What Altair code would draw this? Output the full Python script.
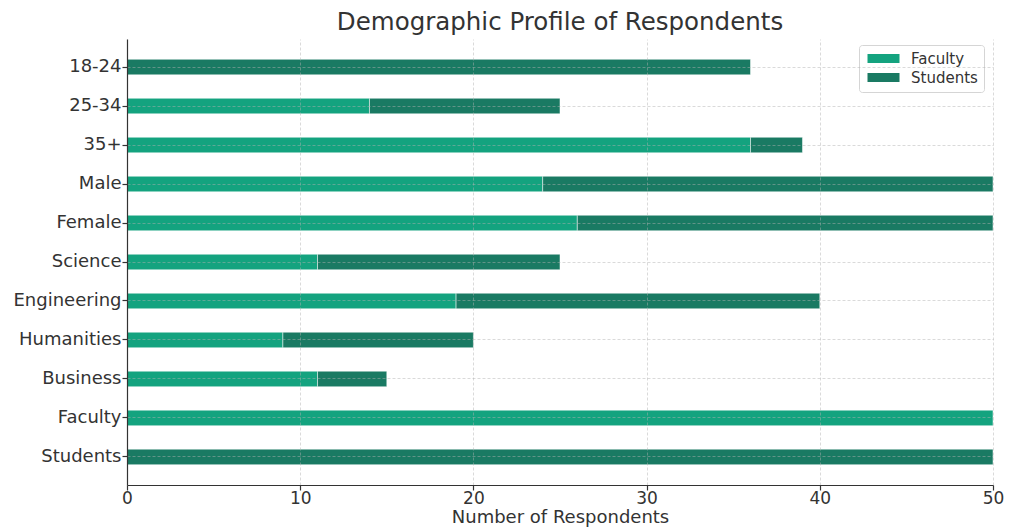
import altair as alt
import pandas as pd

categories = ["18-24", "25-34", "35+", "Male", "Female", "Science",
              "Engineering", "Humanities", "Business", "Faculty", "Students"]
faculty = [0, 14, 36, 24, 26, 11, 19, 9, 11, 50, 0]
students = [36, 11, 3, 26, 24, 14, 21, 11, 4, 0, 50]
groups = ["Faculty", "Students"]
colors = ["#14a37f", "#1a7a63"]
x_ticks = [0, 10, 20, 30, 40, 50]

rows = []
for c, f, s in zip(categories, faculty, students):
    rows.append({"category": c, "group": groups[0], "count": f, "order": 0})
    rows.append({"category": c, "group": groups[1], "count": s, "order": 1})
df = pd.DataFrame(rows)

FONT = "DejaVu Sans"
TXT = "#333333"

chart = (
    alt.Chart(df)
    .transform_filter("datum.count > 0")
    .mark_bar(stroke="white", strokeOpacity=0.5, strokeWidth=1)
    .encode(
        y=alt.Y("category:N", sort=categories,
                scale=alt.Scale(paddingInner=0.6, paddingOuter=0.52),
                axis=alt.Axis(title=None, bandPosition=0.5, labelFontSize=18,
                              tickSize=5, labelPadding=1, zindex=1)),
        x=alt.X("count:Q", stack="zero",
                scale=alt.Scale(domain=[0, 50], nice=False),
                axis=alt.Axis(values=x_ticks, title="Number of Respondents",
                              labelFontSize=17, titleFontSize=18,
                              labelFlush=False,
                              tickSize=5, labelPadding=0, titlePadding=2,
                              zindex=1)),
        color=alt.Color("group:N",
                        scale=alt.Scale(domain=groups, range=colors),
                        legend=alt.Legend(title=None, orient="none",
                                          legendX=732, legendY=6,
                                          direction="vertical",
                                          fillColor="white",
                                          strokeColor="#d5d5d5",
                                          cornerRadius=3, padding=6,
                                          symbolType="M-1,-0.9 L5.4,-0.9 L5.4,0.9 L-1,0.9 Z",
                                          symbolSize=100,
                                          symbolStrokeWidth=0,
                                          symbolOpacity=1,
                                          labelFont=FONT, labelFontSize=15,
                                          labelColor=TXT, labelOffset=31,
                                          rowPadding=3)),
        order=alt.Order("order:Q"),
    )
    .properties(
        width=866, height=446,
        padding={"left": 119, "top": 31, "right": 14, "bottom": 45},
        autosize=alt.AutoSizeParams(type="none"),
        title=alt.Title("Demographic Profile of Respondents", fontSize=24.5,
                        font=FONT, fontWeight="normal", color=TXT,
                        anchor="middle", offset=4),
    )
    .configure_view(strokeWidth=0)
    .configure_axis(
        labelFont=FONT, titleFont=FONT, labelColor=TXT, titleColor=TXT,
        titleFontWeight="normal", domainColor="#333333", domainWidth=1.2,
        tickColor="#333333", tickWidth=1.2,
        grid=True, gridColor="#b0b0b0", gridOpacity=0.6, gridWidth=0.8,
        gridDash=[3, 2],
    )
)

chart.save("out.html", embed_options={"renderer": "svg", "actions": False})
